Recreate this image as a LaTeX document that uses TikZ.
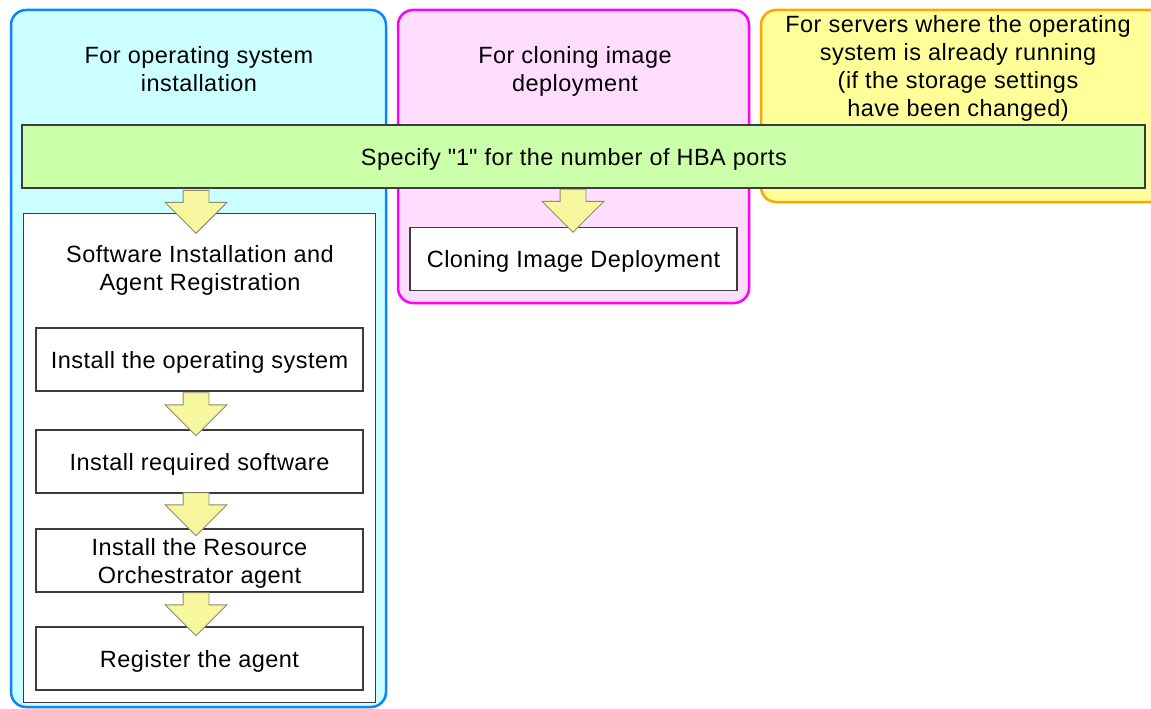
\documentclass[tikz,border=0pt]{standalone}
\usepackage{fontspec}
\setmainfont[LetterSpace=2]{Liberation Sans}
\usetikzlibrary{shapes.arrows}
\definecolor{osblue}{HTML}{0A84FF}
\definecolor{osfill}{HTML}{CCFFFF}
\definecolor{clonepink}{HTML}{FF00FF}
\definecolor{clonefill}{HTML}{FFDDFF}
\definecolor{runorange}{HTML}{FFA500}
\definecolor{runfill}{HTML}{FFFF99}
\definecolor{hbafill}{HTML}{CCFFAA}
\definecolor{edgegray}{HTML}{3C3C3C}
\definecolor{arrowfill}{HTML}{F7F7A0}
\definecolor{arrowedge}{HTML}{8C8C6E}
\newcommand{\diagfont}{\fontsize{23.5}{28}\selectfont}
\tikzset{
  groupframe/.style={line width=2.5pt, rounded corners=15pt},
  grouptitle/.style={anchor=north, inner sep=0pt, align=center},
  stepbox/.style={draw=edgegray, fill=white, line width=1.2pt, minimum width=327pt,
    minimum height=63pt, inner sep=0pt, align=center, text depth=0pt},
  flowarrow/.style={single arrow, draw=arrowedge, fill=arrowfill, line width=0.9pt,
    rotate=-90, anchor=tip, inner xsep=0pt, inner ysep=12.5pt, minimum height=43pt,
    single arrow head extend=18pt}
}
\begin{document}
\begin{tikzpicture}[x=1pt,y=-1pt,font=\diagfont]
  \useasboundingbox (0,0) rectangle (1151,709);
  % the three cases
  \draw[groupframe, draw=osblue, fill=osfill] (11,10) rectangle (386,707);
  \draw[groupframe, draw=clonepink, fill=clonefill] (398,10) rectangle (749,303);
  \draw[groupframe, draw=runorange, fill=runfill] (761,10) rectangle (1170,202);
  \node[grouptitle] (ostitle) at (199,46) {For operating system\\installation};
  \node[grouptitle] (clonetitle) at (575,46) {For cloning image\\deployment};
  \node[grouptitle] (runtitle) at (958,15)
    {For servers where the operating\\system is already running\\(if the storage settings\\have been changed)};
  % common setting
  \node[draw=edgegray, fill=hbafill, line width=1.3pt, minimum width=1123pt,
    minimum height=63pt] (hba) at (583.5,156.5) {};
  \node[inner sep=0pt, text depth=0pt] (hbatext) at (574,156.5)
    {Specify \textquotedbl1\textquotedbl\ for the number of HBA ports};
  % software installation
  \node[draw=edgegray, fill=white, line width=1.2pt, minimum width=352pt,
    minimum height=489pt, anchor=north west] (swreg) at (23,213) {};
  \node[grouptitle] (swtitle) at (200,245) {Software Installation and\\Agent Registration};
  \node[stepbox] (instos) at (199.5,359.5) {Install the operating system};
  \node[stepbox] (instsw) at (199.5,461.5) {Install required software};
  \node[stepbox] (instagent) at (199.5,560.5) {Install the Resource\\Orchestrator agent};
  \node[stepbox] (register) at (199.5,658.5) {Register the agent};
  \node[stepbox] (clone) at (573.5,259) {Cloning Image Deployment};
  % arrows
  \node[flowarrow] (toswreg) at ([xshift=-3.5pt,yshift=-21pt]swreg.north -| instos.north) {};
  \node[flowarrow] (tosw) at ([xshift=-3.5pt,yshift=-7pt]instsw.north) {};
  \node[flowarrow] (toagent) at ([xshift=-3.5pt,yshift=-8pt]instagent.north) {};
  \node[flowarrow] (toregister) at ([xshift=-3.5pt,yshift=-10pt]register.north) {};
  \node[flowarrow] (toclone) at ([xshift=-0.5pt,yshift=-6pt]clone.north) {};
\end{tikzpicture}
\end{document}
